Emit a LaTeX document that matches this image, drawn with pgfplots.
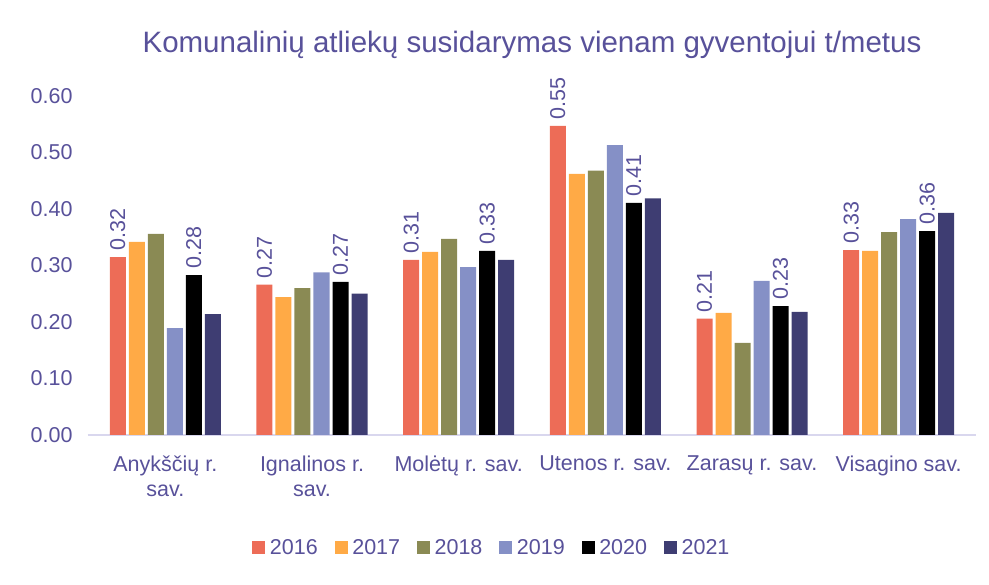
\documentclass[border=0pt]{standalone}
\usepackage{pgfplots}
\pgfplotsset{compat=1.18}
\usepackage{fontspec}
\setmainfont{Liberation Sans}
\definecolor{txt}{HTML}{58519A}
\definecolor{c16}{HTML}{ED6C57}
\definecolor{c17}{HTML}{FFAA46}
\definecolor{c18}{HTML}{8A8A54}
\definecolor{c19}{HTML}{8590C6}
\definecolor{c20}{HTML}{000000}
\definecolor{c21}{HTML}{3E3D72}
\definecolor{axl}{HTML}{D9D7EE}
\begin{document}
\begin{tikzpicture}[x=1pt,y=1pt]
\path (0,0) rectangle (989,585);
\node[text=txt,font=\fontsize{29.5}{33}\selectfont] at (532,540) {Komunalinių atliekų susidarymas vienam gyventojui t/metus};
\begin{axis}[
  at={(92pt,150pt)}, anchor=south west,
  scale only axis, width=880pt, height=339pt,
  xmin=-0.5, xmax=5.5, ymin=0, ymax=0.6,
  ybar=3pt, bar width=16pt,
  axis line style={draw=none},
  axis x line*=bottom, axis y line=none,
  clip=false,
  /pgf/number format/assume math mode=true,
  xtick={0,...,5},
  xticklabels={{Anykščių r.\\sav.},{Ignalinos r.\\sav.},{Molėtų r. sav.},{Utenos r. sav.},{Zarasų r. sav.},{Visagino sav.}},
  xticklabel style={align=center, text=txt, font=\fontsize{21.5}{25}\selectfont, yshift=-17pt},
  major tick length=0pt,
  every axis plot/.append style={draw=none},
  legend columns=6,
  legend style={draw=none, at={(0.4545,-0.333)}, anchor=center, text=txt, font=\fontsize{21.5}{25}\selectfont,
    /tikz/every odd column/.append style={column sep=2.5pt},
    /tikz/every even column/.append style={column sep=15pt}},
  legend image code/.code={\fill[#1] (0pt,-6.5pt) rectangle (13pt,6.5pt);},
  nodes near coords style={rotate=90, anchor=west, xshift=3pt, text=txt, font=\fontsize{21.5}{25}\selectfont, /pgf/number format/.cd, fixed, fixed zerofill, precision=2, assume math mode=true},
]
\draw[axl, line width=1.5pt] (axis cs:-0.53,0) -- (axis cs:5.53,0);
\pgfplotsinvokeforeach{0,0.1,0.2,0.3,0.4,0.5,0.6}{
  \node[anchor=east, text=txt, font=\fontsize{21.5}{25}\selectfont] at (axis cs:-0.5,#1) [xshift=-16pt] {\pgfmathprintnumber[fixed,fixed zerofill,precision=2,assume math mode=true]{#1}};
}
\addplot[fill=c16, nodes near coords] coordinates {(0,0.315) (1,0.266) (2,0.310) (3,0.547) (4,0.206) (5,0.327)};
\addplot[fill=c17] coordinates {(0,0.342) (1,0.244) (2,0.324) (3,0.462) (4,0.216) (5,0.326)};
\addplot[fill=c18] coordinates {(0,0.356) (1,0.260) (2,0.347) (3,0.468) (4,0.163) (5,0.359)};
\addplot[fill=c19] coordinates {(0,0.189) (1,0.288) (2,0.297) (3,0.513) (4,0.273) (5,0.382)};
\addplot[fill=c20, nodes near coords] coordinates {(0,0.283) (1,0.271) (2,0.326) (3,0.411) (4,0.228) (5,0.361)};
\addplot[fill=c21] coordinates {(0,0.214) (1,0.250) (2,0.310) (3,0.419) (4,0.218) (5,0.393)};
\legend{2016,2017,2018,2019,2020,2021}
\end{axis}
\end{tikzpicture}
\end{document}
